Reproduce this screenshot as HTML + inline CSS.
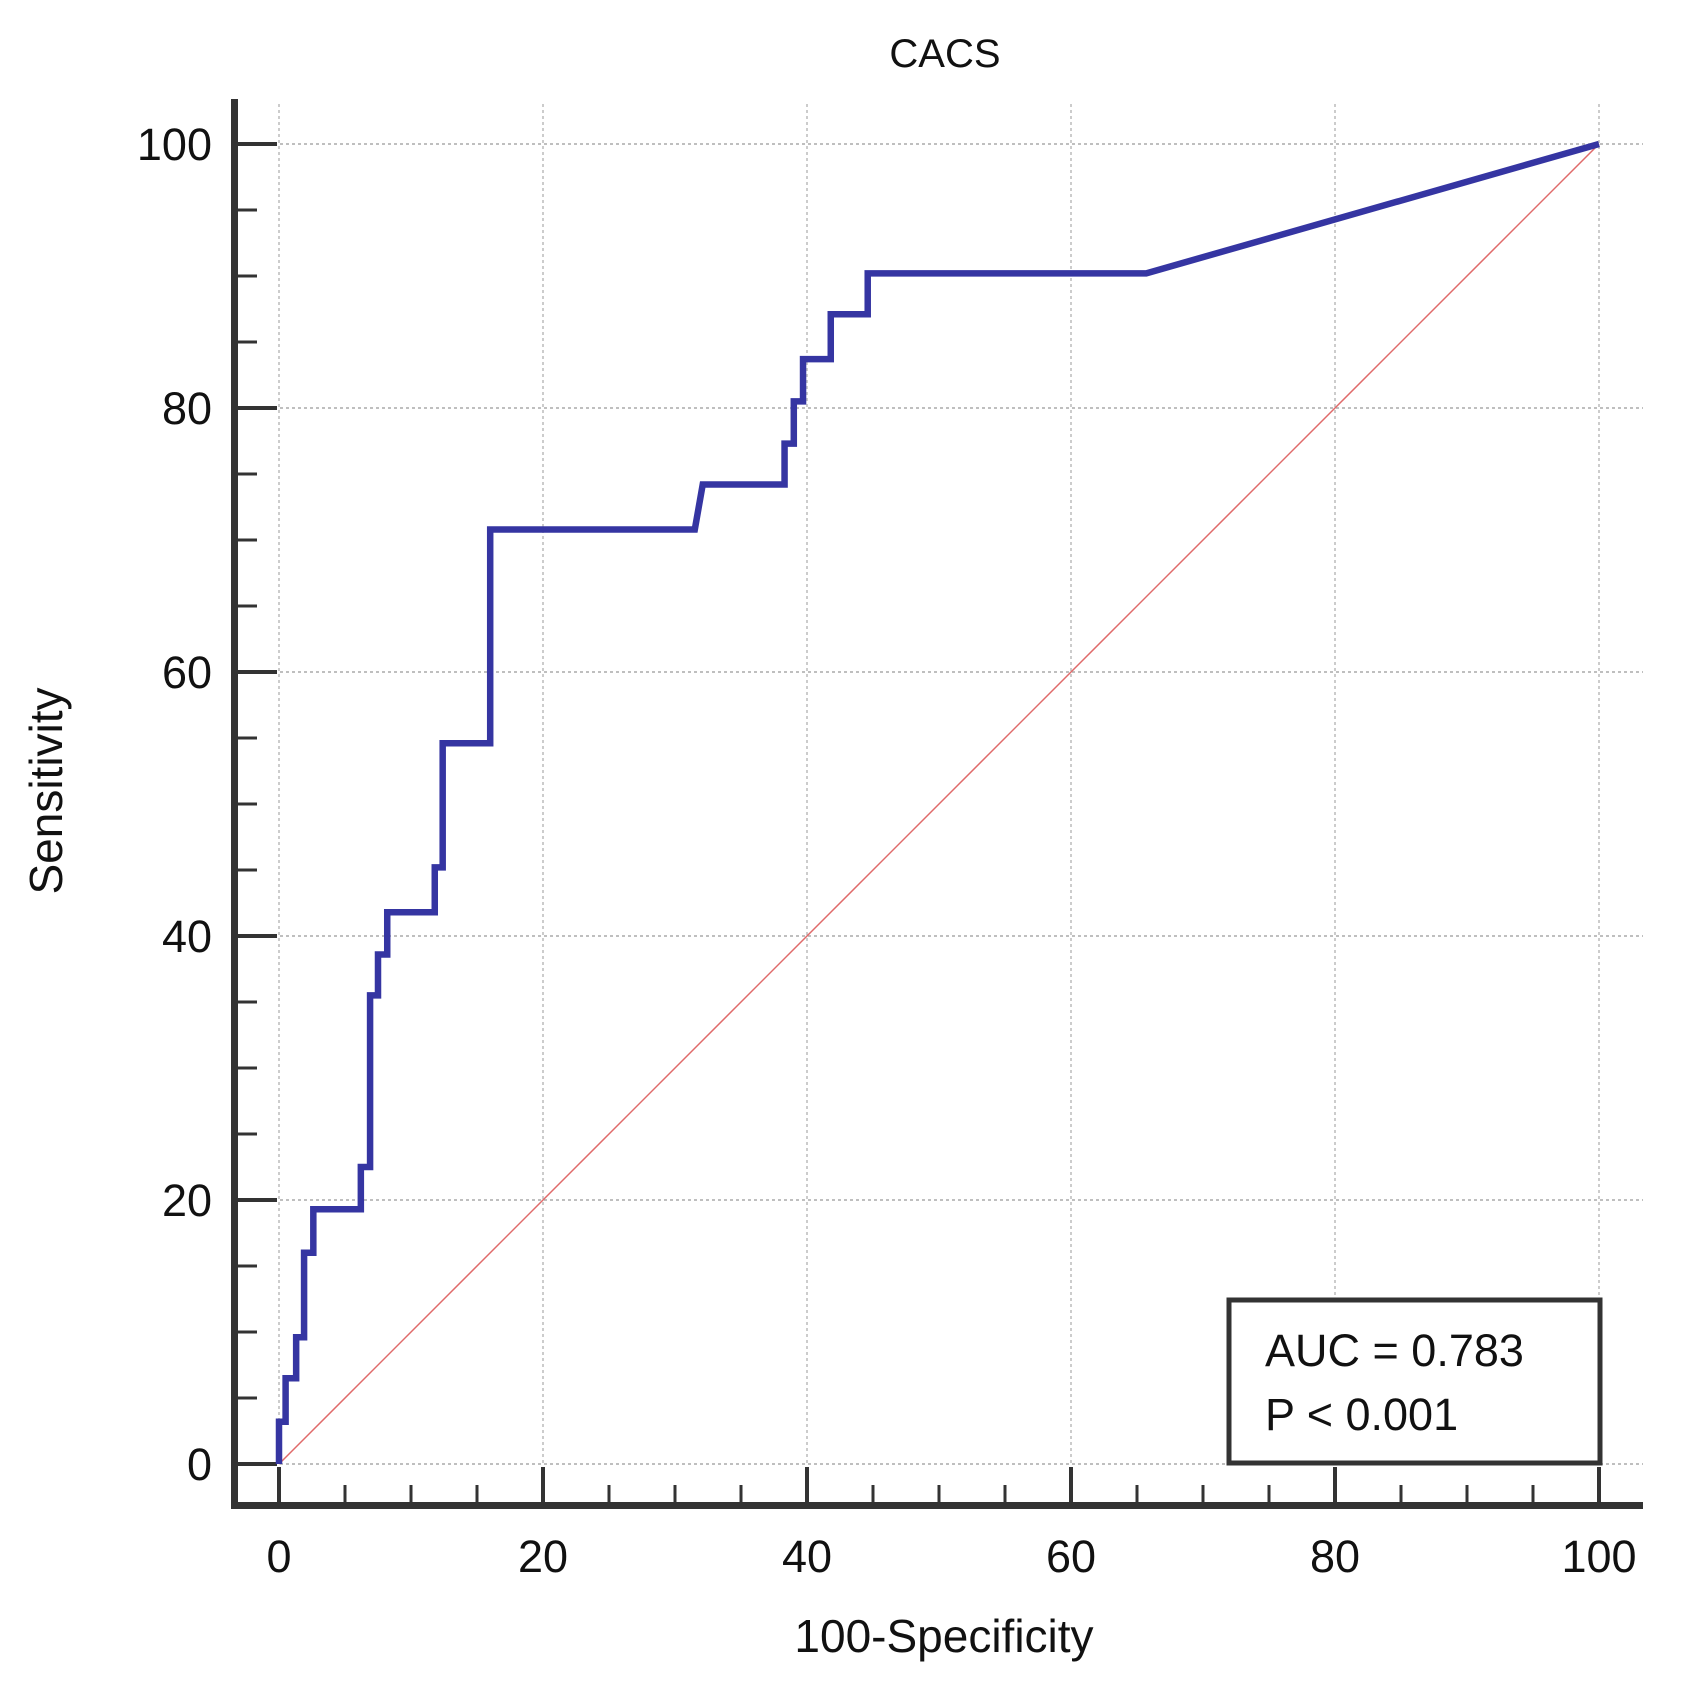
<!DOCTYPE html>
<html><head><meta charset="utf-8"><style>
body{margin:0;background:#fff}
svg text{font-family:"Liberation Sans",sans-serif;fill:#111}
</style></head><body>
<svg id="c" width="1686" height="1699" xmlns="http://www.w3.org/2000/svg"></svg>
<script>
const fpr=[0,0,0.5,0.5,1.3,1.3,1.9,1.9,2.6,2.6,6.2,6.2,6.9,6.9,7.5,7.5,8.2,8.2,11.8,11.8,12.4,12.4,16,16,31.5,32.1,38.3,38.3,39,39,39.7,39.7,41.8,41.8,44.6,44.6,65.7,100];
const tpr=[0,3.2,3.2,6.5,6.5,9.6,9.6,16,16,19.3,19.3,22.5,22.5,35.5,35.5,38.6,38.6,41.8,41.8,45.2,45.2,54.6,54.6,70.8,70.8,74.2,74.2,77.3,77.3,80.5,80.5,83.7,83.7,87.1,87.1,90.2,90.2,100];
const ticks=[0,20,40,60,80,100];
const minorTicks=[0,5,10,15,20,25,30,35,40,45,50,55,60,65,70,75,80,85,90,95,100];
const svg=document.getElementById('c');
const NS='http://www.w3.org/2000/svg';
const sx=v=>279+v*13.2, sy=v=>1464-v*13.2;
function el(t,a,txt){const e=document.createElementNS(NS,t);for(const k in a)e.setAttribute(k,a[k]);if(txt!==undefined)e.textContent=txt;svg.appendChild(e);return e;}
ticks.forEach(t=>{
 let g=el('line',{x1:sx(t),x2:sx(t),y1:104,y2:1464,stroke:'#bbb','stroke-width':1.5,'stroke-dasharray':'3,3'});
 
 
 let h=el('line',{x1:238,x2:1643,y1:sy(t),y2:sy(t),stroke:'#aaa','stroke-width':1.5,'stroke-dasharray':'3,3'});
 
 
});
let ya=el('rect',{x:231,y:99,width:7,height:1410,fill:'#333'});


let xa=el('rect',{x:231,y:1502,width:1412,height:7,fill:'#333'});


minorTicks.forEach(t=>{
 const maj=t%20===0;
 let a=el('line',{x1:238,x2:maj?277:257,y1:sy(t),y2:sy(t),stroke:'#333','stroke-width':maj?4:3});
 
 
 let b=el('line',{x1:sx(t),x2:sx(t),y1:1502,y2:maj?1467:1485,stroke:'#333','stroke-width':maj?4:3});
 
 
});
ticks.forEach(t=>{
 let a=el('text',{x:212,y:sy(t)+16,'text-anchor':'end','font-size':45},t);
 
 
 let b=el('text',{x:sx(t),y:1572,'text-anchor':'middle','font-size':45},t);
 
 
});
let d=el('line',{x1:sx(0),y1:sy(0),x2:sx(100),y2:sy(100),stroke:'#e06a6a','stroke-width':1.5});


let pts=fpr.map((v,i)=>sx(v)+','+sy(tpr[i])).join(' ');
let r=el('polyline',{points:pts,fill:'none',stroke:'#3535a2','stroke-width':6.5,'stroke-linejoin':'miter'});


let lb=el('rect',{x:1229,y:1300,width:371,height:163,fill:'#fff',stroke:'#333','stroke-width':5});


let t1=el('text',{x:1265,y:1366,'font-size':45},'AUC = 0.783');


let t2=el('text',{x:1265,y:1430,'font-size':45},'P < 0.001');


let ti=el('text',{x:945,y:67,'text-anchor':'middle','font-size':40},'CACS');


let xt=el('text',{x:944,y:1652,'text-anchor':'middle','font-size':46},'100-Specificity');


let yt=el('text',{x:0,y:0,'text-anchor':'middle','font-size':46,transform:'translate(62,791) rotate(-90)'},'Sensitivity');


</script>
</body></html>
